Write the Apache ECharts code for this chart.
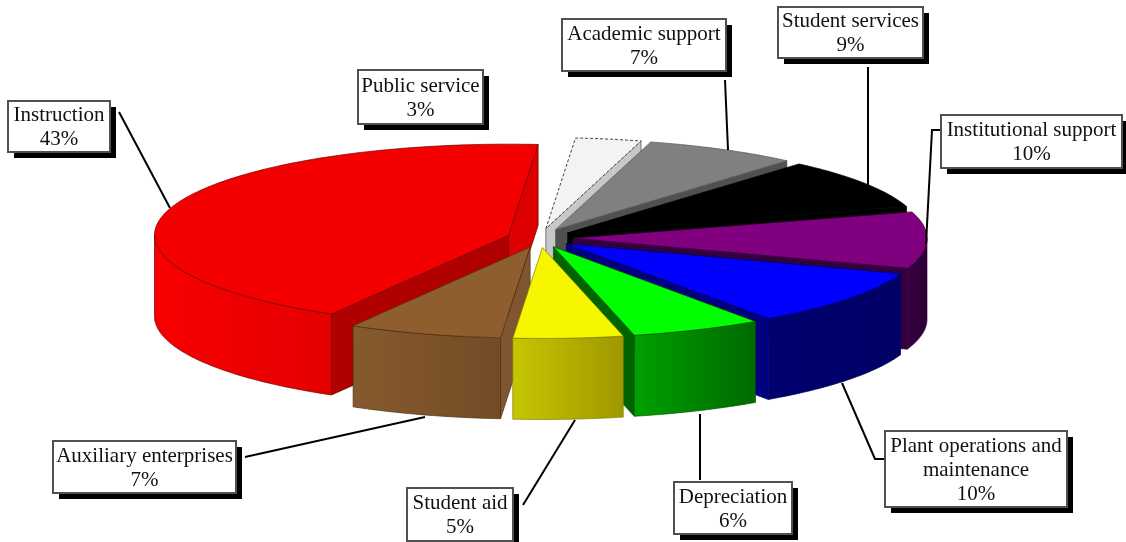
<!DOCTYPE html>
<html>
<head>
<meta charset="utf-8">
<script src="https://cdn.jsdelivr.net/npm/echarts@6/dist/echarts.min.js"></script>
<style>html,body{margin:0;padding:0;background:#fff}#c{width:1126px;height:542px}</style>
</head>
<body>
<div id="c"></div>
<script>
// Data, clockwise from the top of the pie
const categories = ['Public service','Academic support','Student services','Institutional support','Plant operations and\nmaintenance','Depreciation','Student aid','Auxiliary enterprises','Instruction'];
const shares = [3,7,9,10,10,6,5,7,43];

// Appearance of each slice, same order
const topColors  = ['#f3f3f3','#808080','#000000','#800080','#0000ff','#00ff00','#f6f600','#8f5e2e','#f50000'];
const edgeColors = ['#c8c8c8','#505050','#000000','#33003f','#000080','#006400','#a8a800','#805530','#b00000'];
const wallFrom   = ['#c8c8c8','#505050','#000000','#33003f','#000070','#00a000','#c6c600','#865a2e','#f80000'];
const wallTo     = ['#c8c8c8','#505050','#000000','#2c0036','#000066','#006a00','#a09800','#744b26','#e40000'];
const outlines   = ['#444444','#555555','#000000','#3a003a','#000060','#005000','#808000','#4a3010','#700000'];
// Painter's order (back to front)
const drawOrder = [0,1,2,3,8,4,5,7,6];

// Projection layout
const cx = 540, cy = 238, rx = 354, ry = 91, depth = 81, explodeX = 33, explodeY = 9.5, startDeg = 4.8;

// Label layout: box [x0,y0,x1,y1] and leader polyline
const boxes = [[358,70,483,124],[562,19,726,71],[778,7,923,58],[941,115,1122,168],[885,431,1067,507],[674,482,792,534],[407,488,513,541],[53,441,236,493],[8,101,110,152]];
const leaders = [
  [],
  [[725,80],[728,150]],
  [[868,67],[868,186]],
  [[941,130],[932,130],[926,244]],
  [[842,383],[875,459],[885,459]],
  [[700,414],[700,480]],
  [[575,420],[523,505]],
  [[245,457],[425,417]],
  [[119,112],[170,208]]
];

const total = shares.reduce((a,b)=>a+b,0);
const angles = [];
{ let a = startDeg;
  shares.forEach(v => { const b = a + v/total*360; angles.push([a,b]); a = b; }); }
const rad = d => d*Math.PI/180;

function sliceShapes(i){
  const [a0,a1] = angles[i];
  const mid = rad((a0+a1)/2);
  const ax = cx + explodeX*Math.sin(mid), ay = cy - explodeY*Math.cos(mid);
  const pt = d => [ax + rx*Math.sin(rad(d)), ay - ry*Math.cos(rad(d))];
  const down = p => [p[0], p[1]+depth];
  const kids = [];
  const apex = [ax,ay];
  const quad = (p,q,fill) => kids.push({type:'polygon',shape:{points:[p,q,down(q),down(p)]},
    style:{fill,stroke:outlines[i],lineWidth:0.7}});
  // radial walls, only the ones facing the viewer
  if (Math.sin(rad(a0)) < 0) quad(apex, pt(a0), edgeColors[i]);
  if (Math.sin(rad(a1)) > 0) quad(apex, pt(a1), i===8 ? '#dc0000' : edgeColors[i]);
  // outer curved wall (front half only)
  const w0 = Math.max(a0,90), w1 = Math.min(a1,270);
  if (w1 > w0) {
    const top = [];
    for (let d=w0; d<=w1+1e-6; d+=(w1-w0)/48) top.push(pt(d));
    const pts = top.concat(top.slice().reverse().map(down));
    kids.push({type:'polygon',shape:{points:pts},style:{
      fill:new echarts.graphic.LinearGradient(0,0,1,0,[{offset:0,color:wallFrom[i]},{offset:1,color:wallTo[i]}]),
      stroke:outlines[i],lineWidth:0.7}});
  }
  // top face
  const face = [apex];
  const n = Math.max(6,Math.round((a1-a0)));
  for (let k=0;k<=n;k++) face.push(pt(a0+(a1-a0)*k/n));
  kids.push({type:'polygon',shape:{points:face},style:{
    fill:topColors[i],stroke:outlines[i],lineWidth:i===0?1:0.7,lineDash:i===0?[3,2]:null}});
  return kids;
}

const FONT = "21px 'Liberation Serif', serif";
function labelShapes(i){
  const [x0,y0,x1,y1] = boxes[i];
  const kids = [];
  if (leaders[i].length) kids.push({type:'polyline',shape:{points:leaders[i]},style:{fill:null,stroke:'#000',lineWidth:2}});
  kids.push({type:'rect',shape:{x:x0+6,y:y0+6,width:x1-x0,height:y1-y0},style:{fill:'#000'}});
  kids.push({type:'rect',shape:{x:x0,y:y0,width:x1-x0,height:y1-y0},style:{fill:'#fff',stroke:'#505050',lineWidth:2}});
  kids.push({type:'text',style:{x:(x0+x1)/2,y:(y0+y1)/2+1,text:categories[i]+'\n'+shares[i]+'%',
    font:FONT,lineHeight:24,fill:'#111',align:'center',verticalAlign:'middle'}});
  return kids;
}

const chart = echarts.init(document.getElementById('c'),null,{renderer:'canvas'});
chart.setOption({
  animation:false,
  backgroundColor:'#fff',
  series:[
    {type:'custom',coordinateSystem:'none',silent:true,clip:false,z:1,
     data:drawOrder.map(i=>[i]),
     renderItem:(p,api)=>({type:'group',children:sliceShapes(api.value(0))})},
    {type:'custom',coordinateSystem:'none',silent:true,clip:false,z:2,
     data:categories.map((c,i)=>[i]),
     renderItem:(p,api)=>({type:'group',children:labelShapes(api.value(0))})}
  ]
});
</script>
</body>
</html>
